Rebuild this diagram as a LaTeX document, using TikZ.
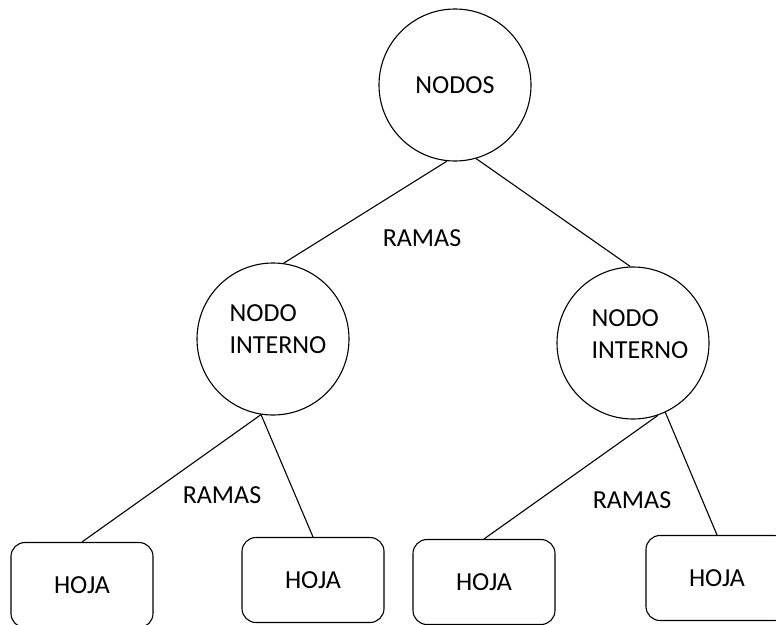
\documentclass[tikz,border=0pt]{standalone}
\usepackage{fontspec}
\setmainfont{Carlito}
\begin{document}
\begin{tikzpicture}[x=1pt,y=-1pt,
    texto/.style={font=\fontsize{26}{32}\selectfont,align=left},
    nodo/.style={draw,circle,line width=1.1pt,minimum size=152pt,inner sep=0pt},
    hoja/.style={draw,rectangle,rounded corners=14pt,line width=1.1pt,minimum width=142pt,minimum height=85pt,texto},
    rama/.style={line width=1.1pt}]
  \useasboundingbox (0,0) rectangle (776,624);
  \clip (0,0) rectangle (776,624);

  % raiz y nodos internos
  \node[nodo,texto] (raiz) at (455,85) {NODOS};
  \node[nodo,label={[texto,xshift=5pt,yshift=10pt]center:{NODO\\INTERNO}}] (izq) at (273,339) {};
  \node[nodo,label={[texto,xshift=7pt,yshift=9pt]center:{NODO\\INTERNO}}] (der) at (633,343) {};

  % hojas
  \node[hoja] (hoja1) at (82,585) {HOJA};
  \node[hoja] (hoja2) at (313,580) {HOJA};
  \node[hoja] (hoja3) at (484,582) {HOJA};
  \node[hoja] (hoja4) at (717,578) {HOJA};

  % ramas
  \draw[rama] (raiz.-96) -- (izq.82);
  \draw[rama] (raiz.-74) -- (der.92);
  \draw[rama] (izq.-99) -- (hoja1.north);
  \draw[rama] (izq.-99) -- (hoja2.north);
  \draw[rama] (der.-71) -- (hoja3.north);
  \draw[rama] (der.-65) -- (hoja4.north);

  \node[texto] (rama1) at (422,238) {RAMAS};
  \node[texto] (rama2) at (222,495) {RAMAS};
  \node[texto] (rama3) at (632,500) {RAMAS};
\end{tikzpicture}
\end{document}
